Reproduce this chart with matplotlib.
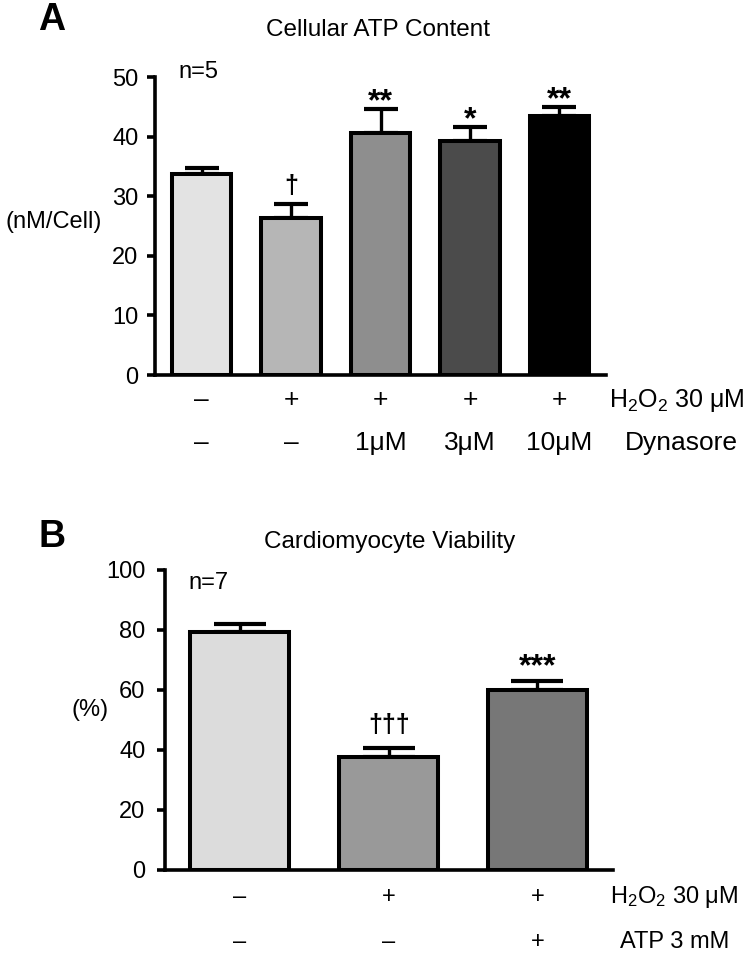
import matplotlib
matplotlib.use("Agg")
import matplotlib.pyplot as plt
import numpy as np

plt.rcParams['font.family'] = ['Liberation Sans', 'DejaVu Sans']
plt.rcParams['mathtext.fontset'] = 'custom'
plt.rcParams['mathtext.rm'] = 'Liberation Sans'
plt.rcParams['mathtext.it'] = 'Liberation Sans'

# panel A data
atp_vals = [33.7, 26.4, 40.6, 39.3, 43.4]
atp_err = [1.1, 2.3, 4.0, 2.3, 1.6]
atp_colors = ['#e3e3e3', '#b6b6b6', '#8e8e8e', '#4b4b4b', '#000000']
atp_marks = ['', '\u2020', '**', '*', '**']
atp_row1 = ['\u2013', '+', '+', '+', '+']
atp_row2 = ['\u2013', '\u2013', '1\u03bcM', '3\u03bcM', '10\u03bcM']

# panel B data
via_vals = [79.3, 37.7, 60.0]
via_err = [2.7, 3.0, 3.0]
via_colors = ['#dcdcdc', '#999999', '#777777']
via_marks = ['', '\u2020\u2020\u2020', '***']
via_row1 = ['\u2013', '+', '+']
via_row2 = ['\u2013', '\u2013', '+']

fig = plt.figure(figsize=(7.54, 9.6), dpi=100)


def style_axes(ax, ymax, step, pad):
	ax.spines['top'].set_visible(False)
	ax.spines['right'].set_visible(False)
	ax.spines['left'].set_linewidth(2.6)
	ax.spines['bottom'].set_linewidth(2.6)
	ax.set_ylim(0, ymax)
	ax.set_yticks(np.arange(0, ymax + 1, step))
	ax.set_xticks([])
	ax.tick_params(axis='y', length=6, width=2.6, labelsize=17, pad=pad)


def marks(ax, x, tops, labels, off_star, off_dag, size_star, size_dag):
	for i in range(len(x)):
		s = labels[i]
		if not s:
			continue
		if '*' in s:
			ax.annotate(s, (x[i], tops[i]), xytext=(0, off_star), textcoords='offset points',
				ha='center', va='baseline', fontsize=size_star, fontweight='bold')
		else:
			ax.annotate(s, (x[i], tops[i]), xytext=(0, off_dag), textcoords='offset points',
				ha='center', va='baseline', fontsize=size_dag, fontweight='bold')


# ---- A
axA = fig.add_axes([155 / 754, 1 - 375 / 960, 451 / 754, 298 / 960])
xa = np.arange(len(atp_vals))
axA.bar(xa, atp_vals, width=0.66, color=atp_colors, edgecolor='black', linewidth=2.9, zorder=3)
axA.errorbar(xa, atp_vals, yerr=[np.zeros(len(atp_err)), atp_err], fmt='none',
	ecolor='black', elinewidth=2.4, capsize=12, capthick=3, zorder=2)
axA.set_xlim(-0.52, 4.52)
style_axes(axA, 50, 10, 6)
marks(axA, xa, np.array(atp_vals) + np.array(atp_err), atp_marks, -1, 8, 23, 18)
tr = axA.get_xaxis_transform()
for i in range(len(atp_vals)):
	axA.text(xa[i], -0.084, atp_row1[i], transform=tr, ha='center', va='center', fontsize=19)
	axA.text(xa[i], -0.228, atp_row2[i], transform=tr, ha='center', va='center', fontsize=19)
axA.text(4.55, -0.084, 'H$_2$O$_2$ 30 \u03bcM', transform=tr, ha='left', va='center', fontsize=18)
axA.text(4.73, -0.228, 'Dynasore', transform=tr, ha='left', va='center', fontsize=19)
fig.text(178 / 754, 1 - 72 / 960, 'n=5', ha='left', va='center', fontsize=17)
fig.text(54 / 754, 1 - 222 / 960, '(nM/Cell)', ha='center', va='center', fontsize=17)
fig.text(378 / 754, 1 - 30 / 960, 'Cellular ATP Content', ha='center', va='center', fontsize=17.5)
fig.text(52 / 754, 1 - 20 / 960, 'A', ha='center', va='center', fontsize=27, fontweight='bold')

# ---- B
axB = fig.add_axes([165 / 754, 1 - 870 / 960, 448 / 754, 300 / 960])
xb = np.arange(len(via_vals))
axB.bar(xb, via_vals, width=0.666, color=via_colors, edgecolor='black', linewidth=2.9, zorder=3)
axB.errorbar(xb, via_vals, yerr=[np.zeros(len(via_err)), via_err], fmt='none',
	ecolor='black', elinewidth=2.4, capsize=19, capthick=3, zorder=2)
axB.set_xlim(-0.504, 2.508)
style_axes(axB, 100, 20, 8)
marks(axB, xb, np.array(via_vals) + np.array(via_err), via_marks, 4, 11.5, 23, 18)
tr = axB.get_xaxis_transform()
for i in range(len(via_vals)):
	axB.text(xb[i], -0.09, via_row1[i], transform=tr, ha='center', va='center', fontsize=17)
	axB.text(xb[i], -0.24, via_row2[i], transform=tr, ha='center', va='center', fontsize=17)
axB.text(2.488, -0.09, 'H$_2$O$_2$ 30 \u03bcM', transform=tr, ha='left', va='center', fontsize=17)
axB.text(2.556, -0.24, 'ATP 3 mM', transform=tr, ha='left', va='center', fontsize=17)
fig.text(188 / 754, 1 - 583 / 960, 'n=7', ha='left', va='center', fontsize=17)
fig.text(90 / 754, 1 - 710 / 960, '(%)', ha='center', va='center', fontsize=17)
fig.text(390 / 754, 1 - 542 / 960, 'Cardiomyocyte Viability', ha='center', va='center', fontsize=17.5)
fig.text(52 / 754, 1 - 537 / 960, 'B', ha='center', va='center', fontsize=27, fontweight='bold')

plt.savefig('out.png', dpi=100)
